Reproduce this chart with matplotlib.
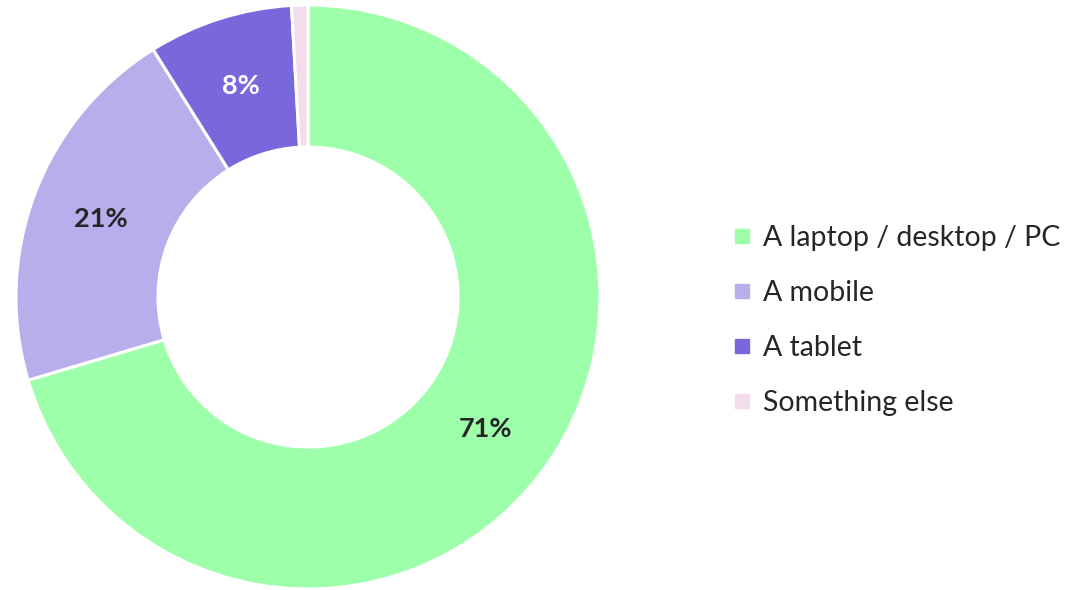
import numpy as np
import matplotlib.pyplot as plt
from matplotlib.lines import Line2D

plt.rcParams['font.family'] = ['Lato', 'DejaVu Sans']

labels = ["A laptop / desktop / PC", "A mobile", "A tablet", "Something else"]
values = [70.4, 20.7, 8.0, 0.9]
pct_text = ["71%", "21%", "8%", ""]
colors = ["#9dffa9", "#b8aeec", "#7b67dc", "#f3dcec"]
text_colors = ["#262626", "#262626", "#ffffff", "#262626"]

W, H = 1076, 590
fig = plt.figure(figsize=(W / 100, H / 100), dpi=100)
cx, cy, r = 308, 297, 292
ax = fig.add_axes([(cx - r) / W, (H - cy - r) / H, 2 * r / W, 2 * r / H])

wedges, _ = ax.pie(values, colors=colors, startangle=90, counterclock=False,
                   radius=1.0, wedgeprops=dict(width=1 - 150 / 292, edgecolor="white", linewidth=2.2))
ax.set_xlim(-1, 1)
ax.set_ylim(-1, 1)
ax.set_aspect("equal")
ax.axis("off")

# percentage labels in the middle of the ring
start = 90.0
total = sum(values)
rmid = (1 + 150 / 292) / 2
for v, t, tc in zip(values, pct_text, text_colors):
    ang = start - v / total * 360 / 2
    start -= v / total * 360
    if t:
        ax.text(rmid * np.cos(np.radians(ang)), rmid * np.sin(np.radians(ang)), t,
                ha="center", va="center", fontsize=19.5, fontweight="bold", color=tc)

handles = [Line2D([], [], marker="s", linestyle="none", markersize=10, color=c) for c in colors]
fig.legend(handles, labels, loc="center left", bbox_to_anchor=(733 / W, 1 - 320.5 / H),
           frameon=False, fontsize=20.5, handlelength=0.6, handletextpad=0.45,
           labelspacing=1.02, labelcolor="#262626", borderaxespad=0, borderpad=0)

fig.savefig("out.png", dpi=100)
